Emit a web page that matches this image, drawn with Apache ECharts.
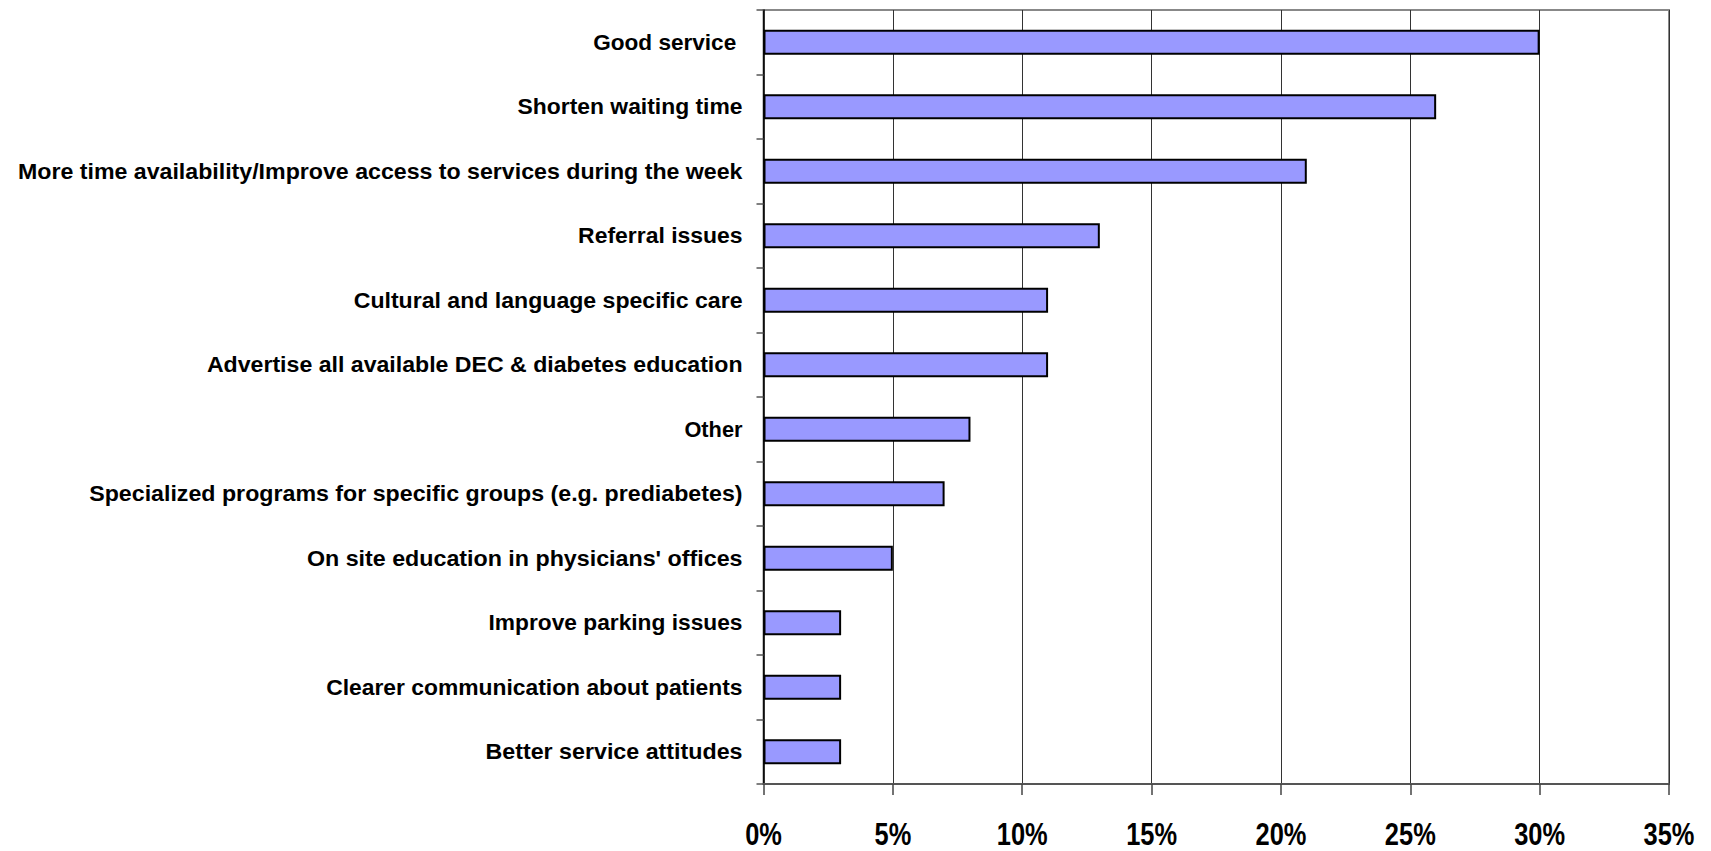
<!DOCTYPE html>
<html>
<head>
<meta charset="utf-8">
<script src="https://cdn.jsdelivr.net/npm/echarts@6/dist/echarts.min.js"></script>
<style>
  html, body { margin: 0; padding: 0; background: #fff; }
  #chart { width: 1711px; height: 851px; }
</style>
</head>
<body>
<div id="chart"></div>
<script>
// Suggested improvements, share of respondents (%)
const categories = [
  'Good service\u00a0',
  'Shorten waiting time',
  'More time availability/Improve access to services during the week',
  'Referral issues',
  'Cultural and language specific care',
  'Advertise all available DEC & diabetes education',
  'Other',
  'Specialized programs for specific groups (e.g. prediabetes)',
  'On site education in physicians\' offices',
  'Improve parking issues',
  'Clearer communication about patients',
  'Better service attitudes'
];
const values = [30, 26, 21, 13, 11, 11, 8, 7, 5, 3, 3, 3];
const xTicks = { min: 0, max: 35, interval: 5 };

const FONT = '"Liberation Sans", Arial, sans-serif';

const chart = echarts.init(document.getElementById('chart'), null, { renderer: 'svg' });
chart.setOption({
  animation: false,
  backgroundColor: '#ffffff',
  grid: {
    left: 763.5, right: 42, top: 10, bottom: 67,
    containLabel: false,
    show: true,
    borderColor: '#888888',
    borderWidth: 2,
    backgroundColor: 'transparent'
  },
  xAxis: {
    type: 'value',
    min: xTicks.min,
    max: xTicks.max,
    interval: xTicks.interval,
    axisLine: { show: true, lineStyle: { color: '#555555', width: 2 } },
    axisTick: { show: true, inside: false, length: 11, lineStyle: { color: '#444444', width: 1.5 } },
    splitLine: { show: true, lineStyle: { color: '#333333', width: 1 } },
    axisLabel: {
      formatter: '{value}%',
      margin: 35,
      color: '#000',
      fontFamily: FONT,
      fontWeight: 'bold',
      fontSize: 31,
      lineHeight: 31
    }
  },
  yAxis: {
    type: 'category',
    data: categories,
    inverse: true,
    axisLine: { show: true, lineStyle: { color: '#000000', width: 1.5 } },
    axisTick: { show: true, inside: false, length: 7, lineStyle: { color: '#555555', width: 1.5 } },
    splitLine: { show: false },
    axisLabel: {
      margin: 21,
      color: '#000',
      fontFamily: FONT,
      fontWeight: 'bold',
      fontSize: 22
    }
  },
  series: [{
    type: 'bar',
    data: values,
    barWidth: 25,
    itemStyle: { color: '#9999ff', borderColor: '#000000', borderWidth: 2 },
    emphasis: { disabled: true }
  }]
});

// Condensed bold lettering: squeeze each label horizontally, and give the
// category names extra tracking between characters.
const names = new Set(categories);
document.querySelectorAll('#chart svg text').forEach(t => {
  const s = t.textContent;
  let squeeze, tracking;
  if (names.has(s)) { squeeze = 0.82; tracking = 2.5; }
  else if (/%$/.test(s)) { squeeze = 0.82; tracking = 0; }
  else return;
  const w = t.getComputedTextLength();
  t.setAttribute('textLength', (w * squeeze + tracking * (s.length - 1)).toFixed(1));
  t.setAttribute('lengthAdjust', 'spacingAndGlyphs');
});
</script>
</body>
</html>
